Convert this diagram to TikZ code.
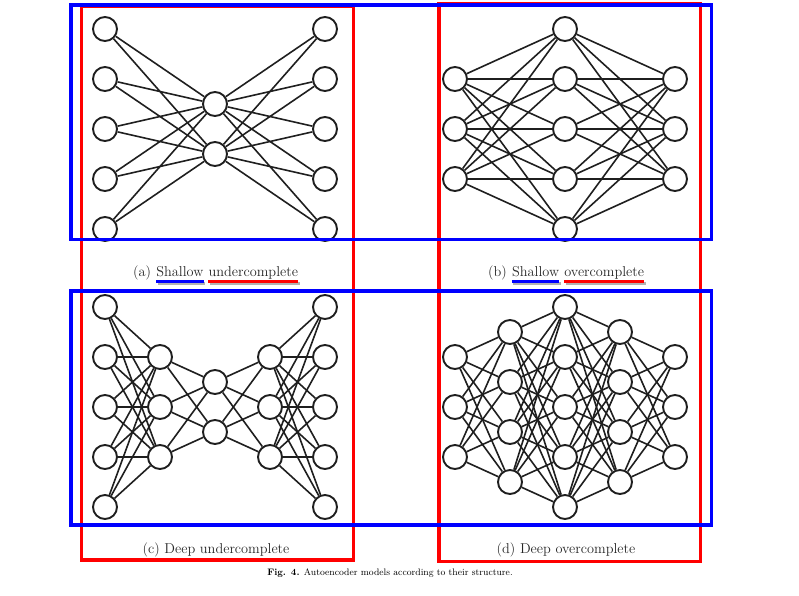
\documentclass[tikz,border=0pt]{standalone}
\usepackage{amsmath}
\usetikzlibrary{positioning,shapes}

\begin{document}
\begin{tikzpicture}[x=1pt,y=-1pt,
	neuron/.style={circle,draw=black!88,line width=1.9pt,fill=white,minimum size=24pt,inner sep=0pt},
	link/.style={draw=black!88,line width=1.6pt},
	redbox/.style={draw=red,line width=3.4pt},
	bluebox/.style={draw=blue,line width=3.4pt},
	caption/.style={inner sep=0pt,text=black!85,font=\fontsize{14.3}{17}\selectfont},
	underbar/.style={line width=3pt,line cap=butt},
	underbarshadow/.style={line width=3pt,draw=black!30,line cap=butt}]
	\useasboundingbox (0,0) rectangle (799,595);

	% (a) shallow undercomplete
	\foreach \l/\n/\x/\y in {1/5/105/-21, 2/2/215/54, 3/5/325/-21}
		\foreach \i in {1,...,\n}
			\node[neuron] (a\l-\i) at (\x,{\y+50*\i}) {};
	\foreach \l/\m/\n/\k in {1/2/5/2, 2/3/2/5}
		\foreach \i in {1,...,\n}
			\foreach \j in {1,...,\k}
				\draw[link] (a\l-\i) -- (a\m-\j);

	% (b) shallow overcomplete
	\foreach \l/\n/\x/\y in {1/3/455/29, 2/5/565/-21, 3/3/675/29}
		\foreach \i in {1,...,\n}
			\node[neuron] (b\l-\i) at (\x,{\y+50*\i}) {};
	\foreach \l/\m/\n/\k in {1/2/3/5, 2/3/5/3}
		\foreach \i in {1,...,\n}
			\foreach \j in {1,...,\k}
				\draw[link] (b\l-\i) -- (b\m-\j);

	% (c) deep undercomplete
	\foreach \l/\n/\x/\y in {1/5/105/257, 2/3/160/307, 3/2/215/332, 4/3/270/307, 5/5/325/257}
		\foreach \i in {1,...,\n}
			\node[neuron] (c\l-\i) at (\x,{\y+50*\i}) {};
	\foreach \l/\m/\n/\k in {1/2/5/3, 2/3/3/2, 3/4/2/3, 4/5/3/5}
		\foreach \i in {1,...,\n}
			\foreach \j in {1,...,\k}
				\draw[link] (c\l-\i) -- (c\m-\j);

	% (d) deep overcomplete
	\foreach \l/\n/\x/\y in {1/3/455/307, 2/4/510/282, 3/5/565/257, 4/4/620/282, 5/3/675/307}
		\foreach \i in {1,...,\n}
			\node[neuron] (d\l-\i) at (\x,{\y+50*\i}) {};
	\foreach \l/\m/\n/\k in {1/2/3/4, 2/3/4/5, 3/4/5/4, 4/5/4/3}
		\foreach \i in {1,...,\n}
			\foreach \j in {1,...,\k}
				\draw[link] (d\l-\i) -- (d\m-\j);

	% sub captions
	\node[caption,anchor=base west] (a-tag) at (133,276) {(a)};
	\node[caption,base right=4.8pt of a-tag] (a-kind) {Shallow};
	\node[caption,base right=4.8pt of a-kind] (a-size) {undercomplete};
	\node[caption,anchor=base west] (b-tag) at (488,276) {(b)};
	\node[caption,base right=4.8pt of b-tag] (b-kind) {Shallow};
	\node[caption,base right=4.8pt of b-kind] (b-size) {overcomplete};
	\node[caption,anchor=base] (c-lbl) at (216,553) {(c) Deep undercomplete};
	\node[caption,anchor=base] (d-lbl) at (566,553) {(d) Deep overcomplete};

	\foreach \w/\c in {a-kind/blue, a-size/red, b-kind/blue, b-size/red} {
		\draw[underbarshadow] ([xshift=1.5pt,yshift=-7pt]\w.base west) -- ([xshift=1.5pt,yshift=-7pt]\w.base east);
		\draw[underbar,draw=\c] ([yshift=-5.5pt]\w.base west) -- ([yshift=-5.5pt]\w.base east);
	}

	% figure caption
	\node[inner sep=0pt,font=\fontsize{9.4}{11}\selectfont] (fig) at (390,573) {\textbf{Fig. 4.} Autoencoder models according to their structure.};

	% boxes
	\draw[redbox] (81.5,6) rectangle (353.5,560);
	\draw[redbox] (439,3.5) rectangle (700.5,561.5);
	\draw[bluebox] (71,5) rectangle (711.5,239.5);
	\draw[bluebox] (71,291) rectangle (711.5,525);
\end{tikzpicture}
\end{document}
